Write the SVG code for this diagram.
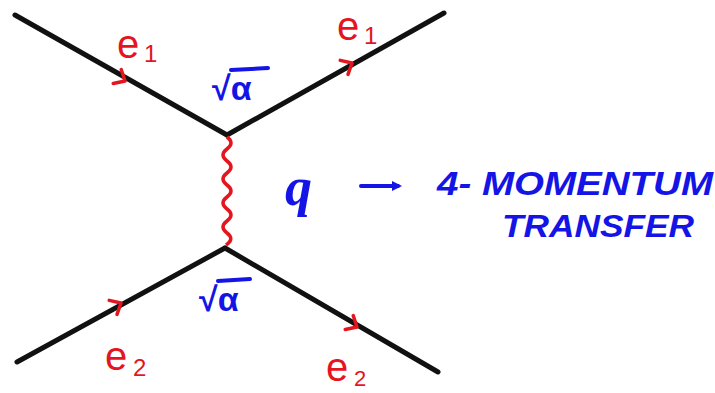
<svg xmlns="http://www.w3.org/2000/svg" width="715" height="393" viewBox="0 0 715 393">
<style>
.fermion{stroke:#111;stroke-width:5;stroke-linecap:round;fill:none}
.chev{stroke:#e4151f;stroke-width:3.5;fill:none;stroke-linecap:round;stroke-linejoin:round}
.photon{stroke:#e4151f;stroke-width:3.5;fill:none}
.red{fill:#e4151f;font-family:"Liberation Sans",Arial,sans-serif}
.blue{fill:#1414e6;font-family:"Liberation Sans",Arial,sans-serif;font-weight:bold;font-style:italic}
.sq{fill:#1414e6;font-family:"Liberation Sans",Arial,sans-serif;font-weight:bold}
.qq{fill:#1414e6;font-family:"Liberation Serif","Times New Roman",serif;font-style:italic;font-weight:bold}
.bl{stroke:#1414e6;stroke-width:4;fill:none;stroke-linecap:round}
</style>
<defs>
<marker id="ah" markerWidth="10" markerHeight="10" refX="6" refY="5" orient="auto" markerUnits="userSpaceOnUse">
<path d="M0,0 L10,5 L0,10 Z" fill="#1414e6"/>
</marker>
</defs>
<rect width="715" height="393" fill="#fff"/>
<g id="connectors">
<path class="fermion" d="M15,15 L227,135"/>
<path class="fermion" d="M227,135 L444,13"/>
<path class="fermion" d="M17,362 L225,248"/>
<path class="fermion" d="M225,248 L438,372"/>
<path class="photon" d="M227,137 q8,6 0,12 t0,12 t0,12 t0,12 t0,12 t0,12 t0,12 t0,12 t-1,12"/>
<g transform="translate(125,81) rotate(30)"><path class="chev" d="M-9,-8 L0,0 L-9,8"/></g>
<g transform="translate(352,63) rotate(-29)"><path class="chev" d="M-9,-8 L0,0 L-9,8"/></g>
<g transform="translate(121,303) rotate(-29)"><path class="chev" d="M-9,-8 L0,0 L-9,8"/></g>
<g transform="translate(357,327) rotate(30)"><path class="chev" d="M-9,-8 L0,0 L-9,8"/></g>
<path class="bl" d="M361,186 L398,186" marker-end="url(#ah)"/>
</g>
<g id="e1-in"><text class="red" x="117" y="58" font-size="40">e</text><text class="red" x="144" y="62" font-size="24">1</text></g>
<g id="e1-out"><text class="red" x="337" y="40" font-size="40">e</text><text class="red" x="364" y="44" font-size="24">1</text></g>
<g id="e2-in"><text class="red" x="105" y="370" font-size="40">e</text><text class="red" x="133" y="376" font-size="24">2</text></g>
<g id="e2-out"><text class="red" x="326" y="381" font-size="40">e</text><text class="red" x="354" y="386" font-size="22">2</text></g>
<g id="vertex-top"><text class="sq" x="212" y="100" font-size="34">√α</text><path class="bl" d="M231,70 L268,68"/></g>
<g id="vertex-bottom"><text class="sq" x="199" y="311" font-size="34">√α</text><path class="bl" d="M218,281 L250,279"/></g>
<g id="q-label"><text class="qq" x="285" y="205" font-size="54">q</text></g>
<g id="momentum"><text class="blue" x="437" y="195" font-size="34" textLength="276" lengthAdjust="spacingAndGlyphs">4- MOMENTUM</text>
<text class="blue" x="502" y="237" font-size="32" textLength="192" lengthAdjust="spacingAndGlyphs">TRANSFER</text></g>
</svg>
